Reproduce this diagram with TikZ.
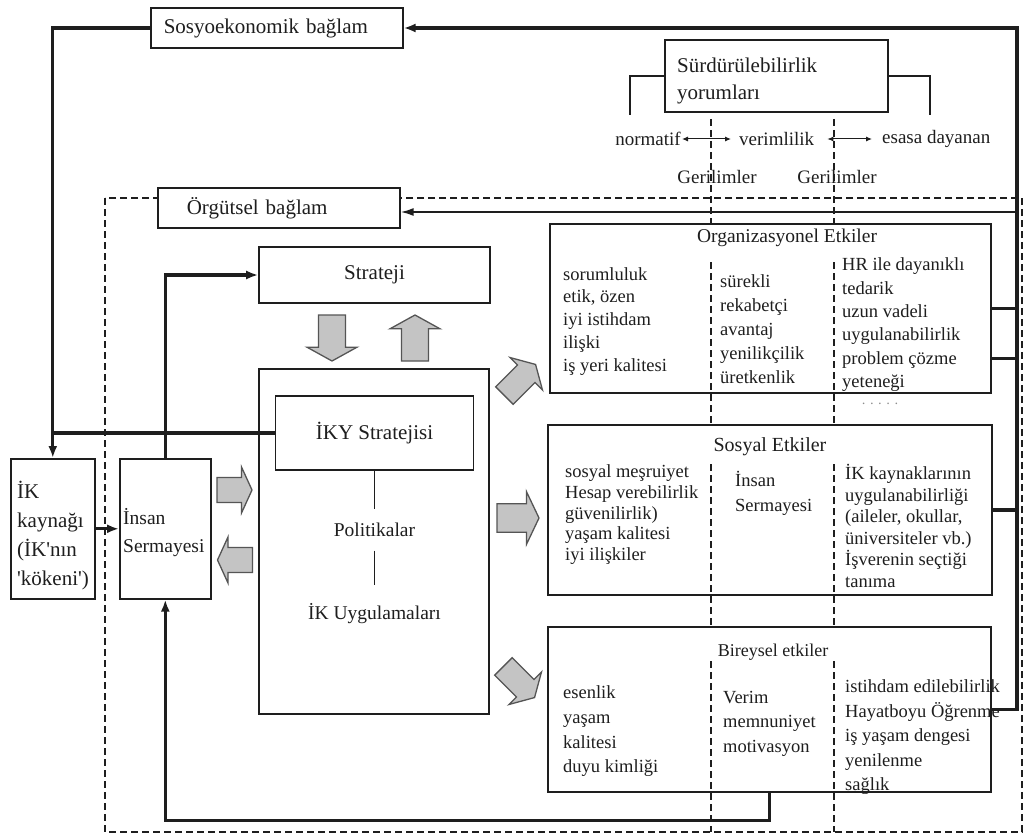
\documentclass[tikz,border=0pt]{standalone}
\usepackage{fontspec}
\setmainfont{Liberation Serif}
\usetikzlibrary{arrows.meta}
\definecolor{ink}{HTML}{1E1E1E}
\definecolor{arrowfill}{HTML}{C4C4C4}
\definecolor{arrowedge}{HTML}{555555}

\tikzset{
  frame/.style={draw=ink, line width=1.6pt, inner sep=0pt, text=ink},
  lblfont/.style={font=\fontsize{21}{25}\selectfont},
  column/.style={anchor=north west, inner sep=0pt, align=left, text=ink,
                 execute at begin node=\strut},
  heavy/.style={line width=3.2pt, draw=ink},
  lead/.style={heavy, -{Latex[length=12pt,width=9pt]}},
  slimlead/.style={line width=1.9pt, draw=ink, -{Latex[length=13pt,width=8pt]}},
  sep/.style={draw=ink, line width=1.1pt, dash pattern=on 7pt off 4pt},
  bracket/.style={draw=ink, line width=1.5pt},
  twoway/.style={draw=ink, line width=1pt,
                 {Latex[length=6pt,width=5pt]}-{Latex[length=6pt,width=5pt]}},
  barrow/.pic={
    \draw[line width=1.3pt, draw=arrowedge, fill=arrowfill, line join=miter]
      (-0.5,-0.27) -- (0.2,-0.27) -- (0.2,-0.5) -- (0.5,0) -- (0.2,0.5)
      -- (0.2,0.27) -- (-0.5,0.27) -- cycle;}
}

\begin{document}
\begin{tikzpicture}[x=1pt,y=-1pt]
\useasboundingbox (0,0) rectangle (1025,840);
\fill[white] (0,0) rectangle (1025,840);

% organisational context frame
\draw[sep] (105,198) rectangle (1022,832);

% tension dividers running through the effect boxes
\foreach \x in {711,834} {
  \draw[sep] (\x,119) -- (\x,224);
  \draw[sep] (\x,262) -- (\x,425);
  \draw[sep] (\x,464) -- (\x,627);
  \draw[sep] (\x,661) -- (\x,832);
}

% context labels
\node[frame, lblfont, fill=white, anchor=west, minimum height=40, text width=226,
      inner xsep=13, align=left] (socio) at (150,28) {Sosyoekonomik bağlam};
\node[frame, lblfont, fill=white, anchor=west, minimum height=40, text width=184,
      inner xsep=29, align=left] (orgc) at (157,208) {Örgütsel bağlam};

% sustainability interpretations
\node[frame, anchor=west, minimum width=223, minimum height=72] (sust) at (664,76) {};
\node[column, font=\fontsize{21}{27}\selectfont] (sustt) at (677,58)
      {Sürdürülebilirlik\\yorumları};
\draw[bracket] (sust.west) -| (630,115);
\draw[bracket] (sust.east) -| (930,115);
\node[font=\fontsize{19}{23}\selectfont, text=ink, inner sep=0pt, anchor=east] (norm) at (681,139) {normatif};
\node[font=\fontsize{19}{23}\selectfont, text=ink, inner sep=0pt, anchor=west] (verim) at (739,139) {verimlilik};
\node[font=\fontsize{19}{23}\selectfont, text=ink, inner sep=0pt, anchor=west] (esasa) at (882,139) {esasa dayanan};
\draw[twoway] ([xshift=1pt]norm.east) -- ([xshift=-8pt]verim.west);
\draw[twoway] ([xshift=13pt]verim.east) -- ([xshift=-10pt]esasa.west);
\node[font=\fontsize{19}{23}\selectfont, text=ink, inner sep=0pt] (ger1) at (717,177) {Gerilimler};
\node[font=\fontsize{19}{23}\selectfont, text=ink, inner sep=0pt] (ger2) at (837,177) {Gerilimler};

% strategy and HRM core
\node[frame, lblfont, minimum width=231, minimum height=56] (strat) at (374.5,275) {Strateji};
\node[frame, minimum width=230, minimum height=345] (ikybox) at (374,541.5) {};
\node[frame, lblfont, minimum width=198, minimum height=74] (ikys) at (374.5,433) {İKY Stratejisi};
\node[font=\fontsize{19.5}{23}\selectfont, text=ink, inner sep=0pt, minimum height=41] (pol) at (374.5,530) {Politikalar};
\node[font=\fontsize{19.5}{23}\selectfont, text=ink, inner sep=0pt, minimum height=58] (uyg) at (374.5,614) {İK Uygulamaları};
\draw[draw=ink, line width=1.4pt] (ikys.south) -- (pol.north);
\draw[draw=ink, line width=1.4pt] (pol.south) -- (uyg.north);

% HR source and human capital
\node[frame, anchor=north west, minimum width=84, minimum height=140] (ikk) at (10,458) {};
\node[column, font=\fontsize{21}{29}\selectfont] (ikkt) at (17,481)
      {İK\\kaynağı\\(İK\textquotesingle nın\\\textquotesingle kökeni\textquotesingle)};
\node[frame, anchor=north west, minimum width=91, minimum height=140] (ins) at (119,458) {};
\node[column, font=\fontsize{19.5}{28}\selectfont] (inst) at (123,508.4)
      {İnsan\\Sermayesi};

% effect boxes
\node[frame, minimum width=441, minimum height=169] (orgfx) at (770.5,308.5) {};
\node[frame, minimum width=444, minimum height=170] (sosfx) at (770,510) {};
\node[frame, minimum width=443, minimum height=165] (birfx) at (769.5,709.5) {};

\node[font=\fontsize{19.5}{23}\selectfont, text=ink, inner sep=0pt] (orgT) at (787,238) {Organizasyonel Etkiler};
\node[font=\fontsize{20}{23}\selectfont, text=ink, inner sep=0pt] (sosT) at (770,447) {Sosyal Etkiler};
\node[font=\fontsize{18}{23}\selectfont, text=ink, inner sep=0pt] (birT) at (773,652) {Bireysel etkiler};

% organisational effects
\node[column, font=\fontsize{18.5}{22.75}\selectfont] (oc1) at (563,267)
  {sorumluluk\\etik, özen\\iyi istihdam\\ilişki\\iş yeri kalitesi};
\node[column, font=\fontsize{18.5}{24}\selectfont] (oc2) at (720,274)
  {sürekli\\rekabetçi\\avantaj\\yenilikçilik\\üretkenlik};
\node[column, font=\fontsize{18.5}{23.4}\selectfont] (oc3) at (842,257.6)
  {HR ile dayanıklı\\tedarik\\uzun vadeli\\uygulanabilirlik\\problem çözme\\yeteneği};
\node[font=\fontsize{14}{16}\selectfont, text=black!45, inner sep=0pt] (odots) at (880,406) {· · · · ·};

% social effects
\node[column, font=\fontsize{18.5}{20.8}\selectfont] (sc1) at (565,464.4)
  {sosyal meşruiyet\\Hesap verebilirlik\\güvenilirlik)\\yaşam kalitesi\\iyi ilişkiler};
\node[column, font=\fontsize{18.5}{25}\selectfont] (sc2) at (735,471.5)
  {İnsan\\Sermayesi};
\node[column, font=\fontsize{18.5}{21.6}\selectfont] (sc3) at (845,464)
  {İK kaynaklarının\\uygulanabilirliği\\(aileler, okullar,\\üniversiteler vb.)\\İşverenin seçtiği\\tanıma};

% individual effects
\node[column, font=\fontsize{18.5}{24.7}\selectfont] (bc1) at (563,685.7)
  {esenlik\\yaşam\\kalitesi\\duyu kimliği};
\node[column, font=\fontsize{18.5}{24.5}\selectfont] (bc2) at (723,690.8)
  {Verim\\memnuniyet\\motivasyon};
\node[column, font=\fontsize{18.5}{24.5}\selectfont] (bc3) at (845,679.8)
  {istihdam edilebilirlik\\Hayatboyu Öğrenme\\iş yaşam dengesi\\yenilenme\\sağlık};

% grey block arrows
\pic[rotate=-90, xscale=46, yscale=50] at (332,338) {barrow};
\pic[rotate=90,  xscale=46, yscale=50] at (415,338) {barrow};
\pic[xscale=35, yscale=46] at (234.5,490) {barrow};
\pic[rotate=180, xscale=35, yscale=46] at (235,560) {barrow};
\pic[rotate=45,  xscale=44, yscale=46] at (520,380) {barrow};
\pic[xscale=42, yscale=53] at (518,518) {barrow};
\pic[rotate=-45, xscale=44, yscale=46] at (519,682) {barrow};

% connectors on the left
\draw[lead] (socio.west) -| (ikk.north);
\draw[heavy] (ikys.west) -- (ikys.west -| ikk.north);
\draw[lead] (ins.north) |- (strat.west);
\draw[lead] (ikk.east) -- (ins.west);
\draw[lead] (birfx.south) -- ++(0,28) -| (ins.south);

% feedback spine on the right
\coordinate (rtop) at (1017,28);
\coordinate (o2) at ([yshift=-50pt]orgfx.east);
\coordinate (octx) at ([yshift=-4pt]orgc.east);
\draw[lead] (birfx.east) -| (rtop) -- (socio.east);
\draw[heavy] (orgfx.east) -- (orgfx.east -| rtop);
\draw[heavy] (o2) -- (o2 -| rtop);
\draw[heavy] (sosfx.east) -- (sosfx.east -| rtop);
\draw[slimlead] (octx -| rtop) -- (octx);
\end{tikzpicture}
\end{document}
